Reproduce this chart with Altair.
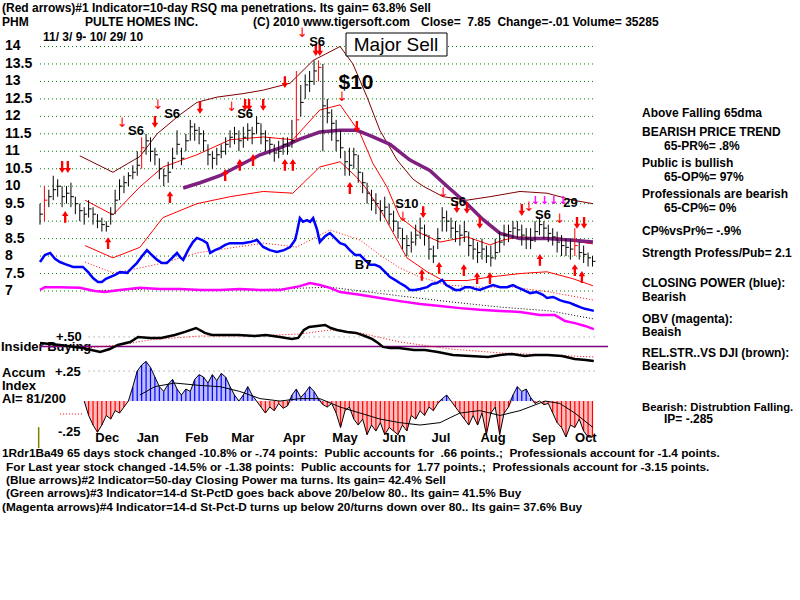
import altair as alt
import pandas as pd

FONT = "Liberation Sans"
NB = "\u00a0"

# ---------------- data (x unit: bar index, 0 = 11/3/09 ... 125 = 10/29/10) ----------------
close = [9.2, 9.6, 9.7, 9.9, 10.0, 9.7, 9.8, 9.7, 9.5, 9.3,
         9.2, 9.35, 9.2, 9.0, 8.9, 8.85, 9.2, 9.6, 10.0, 10.1,
         10.3, 10.4, 10.6, 11.1, 11.3, 11.0, 10.9, 10.5, 10.3, 10.4,
         10.8, 11.2, 10.8, 11.3, 11.7, 11.6, 11.5, 11.3, 10.9, 10.8,
         10.9, 11.0, 11.2, 11.4, 11.5, 11.3, 11.4, 11.6, 11.5, 11.8,
         11.5, 11.3, 11.2, 10.95, 11.0, 11.2, 11.15, 11.3, 11.9, 12.4,
         12.9, 13.0, 13.3, 13.4, 12.3, 12.1, 11.8, 11.3, 11.1, 10.7,
         10.6, 10.9, 10.4, 10.1, 9.8, 9.6, 9.5, 9.3, 9.4, 9.2,
         9.0, 8.8, 8.5, 8.3, 8.4, 8.6, 8.8, 8.6, 8.2, 8.0,
         8.5, 9.1, 9.0, 8.8, 8.7, 8.6, 8.7, 8.3, 8.2, 8.1,
         8.2, 8.0, 7.95, 8.1, 8.4, 8.6, 8.7, 8.8, 8.75, 8.6,
         8.5, 8.45, 8.7, 8.9, 8.8, 8.65, 8.55, 8.4, 8.3, 8.25,
         8.2, 8.3, 8.1, 8.05, 7.95, 7.85]
high = [9.5, 10.0, 9.9, 10.3, 10.2, 10.0, 10.0, 10.1, 9.7, 9.5,
        9.4, 9.6, 9.4, 9.2, 9.1, 9.0, 9.4, 9.9, 10.2, 10.3,
        10.4, 10.6, 11.0, 11.4, 11.5, 11.4, 11.1, 10.8, 10.5, 10.7,
        11.1, 11.6, 11.1, 11.5, 11.9, 11.8, 11.7, 11.6, 11.2, 11.0,
        11.1, 11.2, 11.4, 11.6, 11.7, 11.6, 11.7, 11.8, 11.7, 12.0,
        11.8, 11.6, 11.4, 11.2, 11.3, 11.4, 11.4, 11.9, 13.3, 12.9,
        13.2, 13.3, 13.6, 13.6, 13.5, 12.5, 12.2, 11.9, 11.6, 11.0,
        11.1, 11.1, 10.9, 10.4, 10.1, 9.9, 9.8, 9.6, 9.7, 9.5,
        9.3, 9.0, 8.8, 8.6, 8.7, 8.9, 9.1, 8.9, 8.6, 8.3,
        8.8, 9.4, 9.3, 9.1, 9.0, 8.9, 9.0, 8.7, 8.5, 8.4,
        8.5, 8.3, 8.3, 8.5, 8.7, 8.9, 8.9, 9.0, 9.0, 8.9,
        8.8, 8.8, 9.0, 9.1, 9.0, 8.9, 8.8, 8.7, 8.6, 8.5,
        8.5, 8.8, 8.4, 8.3, 8.1, 8.0]
low = [8.9, 9.0, 9.4, 9.6, 9.7, 9.4, 9.5, 9.4, 9.2, 9.0,
       8.9, 9.1, 8.9, 8.8, 8.7, 8.7, 8.9, 9.2, 9.6, 9.8,
       10.0, 10.2, 10.3, 10.5, 10.9, 10.7, 10.6, 10.2, 10.0, 10.1,
       10.5, 10.9, 10.6, 11.0, 11.3, 11.3, 11.2, 11.0, 10.6, 10.5,
       10.6, 10.8, 10.9, 11.1, 11.2, 11.0, 11.1, 11.3, 11.2, 11.5,
       11.2, 11.0, 10.9, 10.7, 10.8, 10.9, 10.9, 11.1, 11.3, 12.0,
       12.5, 12.7, 12.9, 13.0, 11.0, 11.8, 11.3, 11.0, 10.8, 10.3,
       10.3, 10.5, 10.1, 9.8, 9.5, 9.3, 9.2, 9.0, 9.1, 8.9,
       8.7, 8.5, 8.2, 8.0, 8.1, 8.3, 8.5, 8.3, 7.9, 7.8,
       8.2, 8.7, 8.7, 8.5, 8.4, 8.3, 8.4, 8.0, 7.9, 7.8,
       7.9, 7.8, 7.7, 7.9, 8.1, 8.3, 8.4, 8.5, 8.5, 8.3,
       8.2, 8.2, 8.4, 8.6, 8.5, 8.4, 8.3, 8.1, 8.0, 8.0,
       7.9, 8.0, 7.9, 7.8, 7.7, 7.7]
red_bar_idx = [1, 23, 58, 63, 121]

# Accumulation index, bars 10..125
acc_first = 10
accum = [0.0, -0.12, -0.2, -0.26, -0.2, -0.12, -0.15, -0.08, -0.1, -0.05,
         0.0, 0.12, 0.25, 0.3, 0.33, 0.28, 0.2, 0.12, 0.08, 0.14,
         0.18, 0.1, 0.05, 0.1, 0.08, 0.18, 0.22, 0.2, 0.15, 0.22,
         0.17, 0.23, 0.2, 0.12, 0.05, 0.0, 0.05, 0.12, 0.05, 0.0,
         -0.05, -0.1, -0.05, -0.08, -0.02, -0.06, -0.04, 0.05, 0.1, 0.03,
         0.07, 0.12, 0.08, 0.02, -0.03, -0.05, -0.02, -0.1, -0.22, -0.08,
         -0.05, -0.15, -0.2, -0.15, -0.28, -0.2, -0.25, -0.18, -0.28, -0.22,
         -0.25, -0.28, -0.2, -0.25, -0.12, -0.15, -0.08, -0.12, -0.05, -0.08,
         -0.02, 0.02, 0.05, 0.0, -0.05, -0.1, -0.15, -0.2, -0.12, -0.2,
         -0.1, -0.28, -0.1, -0.05, -0.28, -0.1, -0.05, 0.05, 0.12, 0.08,
         0.1, 0.03, -0.02, 0.0, -0.03, -0.02, -0.1, -0.18, -0.22, -0.3,
         -0.2, -0.22, -0.15, -0.25, -0.3, -0.3]
acc_ma_d = [22.6, 26.0, 30.5, 36.2, 40.7, 45.2, 49.8, 54.3, 58.8, 63.3, 67.9, 72.4,
            76.9, 81.4, 86.0, 90.5, 95.0, 99.5, 104.1, 108.6, 114.3, 117.6, 121.0, 125.1]
acc_ma_v = [0.05, 0.12, 0.15, 0.13, 0.12, 0.08, 0.02, 0.0, 0.02, 0.02, -0.05, -0.1,
            -0.15, -0.18, -0.2, -0.18, -0.1, -0.08, -0.12, -0.08, 0.0, -0.02, -0.1, -0.22]

# Insider buying line and its average
ins_d = [0.0, 4.5, 9.7, 13.6, 15.8, 17.6, 20.4, 22.2, 24.9, 27.4, 30.5, 32.8, 35.3, 37.3,
         38.9, 41.9, 45.0, 48.6, 51.1, 54.3, 57.0, 58.4, 59.7, 60.9, 62.7, 64.5, 65.8,
         67.2, 69.5, 71.5, 73.5, 75.1, 76.5, 77.6, 79.2, 81.2, 84.6, 87.1, 90.0, 93.4,
         97.3, 101.4, 104.1, 106.8, 109.7, 112.0, 114.9, 118.1, 121.0, 123.5, 125.3]
ins_v = [0.457, 0.443, 0.421, 0.393, 0.414, 0.443, 0.464, 0.5, 0.493, 0.493, 0.514, 0.536,
         0.564, 0.529, 0.514, 0.514, 0.514, 0.507, 0.514, 0.5, 0.486, 0.493, 0.55, 0.571,
         0.579, 0.586, 0.564, 0.55, 0.536, 0.529, 0.507, 0.486, 0.457, 0.429, 0.421, 0.421,
         0.407, 0.407, 0.393, 0.371, 0.364, 0.357, 0.371, 0.379, 0.364, 0.371, 0.371,
         0.364, 0.343, 0.336, 0.329]
ins_ma_d = [10.2, 18.1, 24.9, 36.2, 47.5, 58.8, 65.6, 72.4, 81.4, 92.8, 104.1, 115.4, 125.3]
ins_ma_v = [0.421, 0.443, 0.479, 0.507, 0.507, 0.521, 0.55, 0.529, 0.464, 0.414, 0.386, 0.371, 0.357]

# Price-panel moving average and bands
ma65_d = [32.4, 36.2, 40.7, 45.2, 49.8, 54.3, 58.8, 63.3, 67.9, 71.7, 74.7, 79.2, 83.7,
          88.2, 92.1, 96.6, 100.2, 104.1, 108.6, 114.7, 120.6, 125.1]
ma65_v = [9.95, 10.1, 10.3, 10.6, 10.9, 11.1, 11.35, 11.55, 11.6, 11.6, 11.45, 11.2, 10.75,
          10.45, 10.0, 9.5, 9.05, 8.65, 8.5, 8.5, 8.45, 8.4]
upper_d = [9.0, 16.5, 22.6, 26.5, 31.7, 35.5, 40.0, 45.9, 50.5, 56.6, 61.8, 67.9, 70.8,
           74.0, 76.9, 80.8, 84.4, 86.7, 91.2, 96.6, 101.8, 108.6, 114.7, 120.6, 125.1]
upper_v = [10.87, 10.4, 10.85, 11.5, 12.05, 12.4, 12.55, 12.65, 12.75, 12.95, 13.6, 14.0, 13.5,
           12.55, 11.6, 10.75, 10.2, 10.0, 9.7, 9.6, 9.7, 9.85, 9.8, 9.6, 9.5]
mid_d = [10.2, 16.5, 22.6, 27.8, 35.5, 43.0, 50.5, 57.2, 63.3, 67.9, 72.4, 75.3, 78.5,
         81.4, 86.0, 90.5, 96.6, 101.8, 104.8, 108.6, 113.1, 117.6, 122.2, 125.1]
mid_v = [9.6, 9.18, 9.98, 10.55, 10.9, 11.33, 11.41, 11.33, 12.18, 12.33, 11.52, 10.66, 9.98,
         9.12, 8.66, 8.4, 8.55, 8.32, 8.46, 8.55, 8.52, 8.52, 8.4, 8.35]
lower_d = [10.2, 16.5, 22.6, 27.8, 35.5, 43.0, 50.5, 57.2, 63.3, 67.9, 71.7, 74.0, 77.6,
           83.0, 87.6, 91.2, 96.6, 101.8, 108.6, 114.7, 120.6, 125.1]
lower_v = [8.3, 7.95, 8.25, 9.1, 9.5, 9.7, 9.85, 9.8, 10.55, 10.7, 10.25, 9.9, 9.2,
           7.95, 7.55, 7.3, 7.3, 7.4, 7.5, 7.55, 7.35, 7.15]

# Closing Power (blue) drawn in the price panel, plus its red dotted average
cp_d = [0.0, 1.1, 2.3, 3.4, 4.5, 5.7, 7.5, 9.7, 10.9, 12.0, 13.1, 14.0, 14.9, 15.8, 17.0,
        18.1, 19.7, 20.8, 21.9, 23.1, 24.2, 25.3, 26.5, 27.6, 28.7, 29.9, 31.0, 31.7, 32.4,
        33.5, 34.6, 35.5, 36.7, 37.8, 38.5, 39.6, 40.7, 41.9, 43.0, 44.6, 45.9, 47.5, 49.1,
        50.5, 52.0, 53.6, 55.2, 56.6, 57.7, 58.1, 58.8, 59.5, 60.4, 61.1, 61.8, 62.7, 63.3,
        64.5, 65.6, 66.7, 67.9, 69.0, 70.1, 71.3, 72.4, 73.5, 74.7, 75.8, 76.9, 78.1, 79.2,
        80.3, 81.4, 82.6, 83.7, 84.8, 86.0, 87.6, 88.7, 89.8, 91.0, 91.9, 92.8, 93.9, 95.0,
        96.2, 97.3, 98.4, 99.5, 100.7, 102.5, 104.1, 105.7, 107.0, 107.9, 109.3, 110.9,
        112.4, 113.8, 114.7, 116.1, 117.6, 118.8, 119.9, 121.0, 122.2, 123.3, 124.4, 125.3]
cp_v = [7.83, 8.03, 8.09, 7.92, 7.83, 7.77, 7.69, 7.69, 7.54, 7.37, 7.26, 7.26, 7.35, 7.40,
        7.46, 7.54, 7.52, 7.66, 7.80, 8.0, 8.17, 8.03, 7.89, 7.80, 7.80, 7.95, 8.09, 7.97,
        7.89, 8.17, 8.40, 8.52, 8.46, 8.37, 8.09, 8.17, 8.23, 8.32, 8.37, 8.37, 8.37, 8.40,
        8.46, 8.26, 8.17, 8.12, 8.17, 8.26, 8.46, 8.66, 9.09, 8.98, 9.03, 8.98, 9.09, 8.75,
        8.40, 8.57, 8.66, 8.52, 8.37, 8.32, 8.17, 8.03, 8.03, 7.89, 7.75, 7.75, 7.69, 7.54,
        7.40, 7.32, 7.23, 7.14, 7.03, 7.03, 7.06, 7.11, 7.2, 7.23, 7.32, 7.17, 7.11, 7.03,
        7.03, 7.11, 7.11, 7.06, 7.03, 7.09, 7.17, 7.11, 7.11, 7.17, 7.11, 7.03, 6.94, 6.97,
        6.89, 6.80, 6.83, 6.74, 6.69, 6.66, 6.60, 6.54, 6.49, 6.46, 6.43]
cpma_d = [10.2, 13.6, 16.5, 20.4, 27.8, 35.5, 43.0, 50.5, 58.1, 65.6, 72.4, 76.9, 81.4,
          86.0, 92.1, 99.5, 107.0, 115.4, 125.3]
cpma_v = [7.83, 7.66, 7.52, 7.60, 7.80, 8.09, 8.23, 8.37, 8.26, 8.75, 8.46, 8.03, 7.66,
          7.40, 7.17, 7.11, 7.11, 6.97, 6.74]

# OBV (magenta) and its black dotted average
obv_d = [0.0, 1.1, 4.5, 9.0, 12.4, 14.7, 18.1, 22.6, 27.1, 31.7, 36.2, 40.7, 45.2, 49.8,
         54.3, 58.8, 61.1, 63.3, 65.6, 67.9, 72.4, 76.9, 81.4, 86.0, 90.5, 95.0, 99.5,
         104.1, 108.6, 113.1, 116.5, 118.8, 121.0, 123.3, 125.3]
obv_v = [7.03, 7.11, 7.11, 7.09, 7.0, 6.97, 7.03, 7.09, 7.06, 7.06, 7.03, 7.03, 7.06, 7.03,
         7.03, 7.14, 7.23, 7.17, 7.09, 6.97, 6.89, 6.80, 6.71, 6.63, 6.57, 6.51, 6.46,
         6.43, 6.40, 6.31, 6.31, 6.14, 6.08, 6.0, 5.91]
obvma_d = [11.3, 24.9, 47.5, 65.6, 81.4, 92.8, 104.1, 115.4, 125.3]
obvma_v = [7.0, 7.06, 7.03, 7.11, 6.86, 6.69, 6.54, 6.43, 6.20]

price_ticks = [14, 13.5, 13, 12.5, 12, 11.5, 11, 10.5, 10, 9.5, 9, 8.5, 8, 7.5, 7]
tick_labels = ["14", "13.5", "13", "12.5", "12", "11.5", "11", "10.5", "10", "9.5", "9",
               "8.5", "8", "7.5", "7"]

months = ["Dec", "Jan", "Feb", "Mar", "Apr", "May", "Jun", "Jul", "Aug", "Sep", "Oct"]
month_d = [15.2, 24.4, 35.5, 45.9, 57.5, 69.0, 80.1, 90.7, 102.5, 114.0, 123.5]

# signal arrows
up_d = [5.7, 15.4, 29.4, 41.9, 45.2, 48.2, 55.4, 57.2, 70.1, 86.4, 90.3, 95.9, 98.9,
        101.8, 113.1, 121.0, 122.6]
up_p = [9.12, 8.37, 9.69, 10.32, 10.61, 10.75, 10.61, 10.61, 9.95, 7.46, 7.66, 7.60, 7.37,
        7.37, 7.89, 7.60, 7.40]
dn_d = [5.0, 6.3, 26.0, 36.2, 46.4, 47.3, 50.5, 55.4, 62.4, 63.3, 71.7, 86.7, 94.3, 96.6,
        99.5, 109.0, 121.5, 123.1]
dn_p = [10.55, 10.55, 11.84, 12.24, 12.33, 12.33, 12.33, 12.98, 13.9, 13.9, 11.70, 9.26,
        9.40, 9.38, 8.95, 9.32, 8.95, 8.95]
thin_d = [18.6, 26.7, 43.4, 59.3, 68.3, 82.1, 91.2, 110.6, 117.6]
thin_p = [11.81, 12.33, 12.27, 14.39, 12.55, 9.12, 9.81, 9.40, 9.05]

sig_text = ["S6", "S6", "S6", "S6", "S10", "S6", "S6", "29", "B7"]
sig_d = [21.7, 29.9, 46.4, 62.7, 83.0, 94.6, 113.8, 120.0, 73.1]
sig_p = [11.58, 12.07, 12.07, 14.13, 9.49, 9.55, 9.18, 9.52, 7.75]

# ---------------- scales ----------------
XS = alt.Scale(domain=[-9.05, 171.95], nice=False, zero=False)
PS = alt.Scale(domain=[-1.846, 15.331], nice=False, zero=False)
AS = alt.Scale(domain=[-1.658, 3.342], nice=False, zero=False)
IS = alt.Scale(domain=[-1.379, 2.907], nice=False, zero=False)


def X(f="d"):
    return alt.X(f"{f}:Q", scale=XS, axis=None)


def Y(f, sc):
    return alt.Y(f"{f}:Q", scale=sc, axis=None)


def line(d, v, color, width, sc=PS, dash=None):
    df = pd.DataFrame({"d": d, "v": v})
    kw = dict(color=color, strokeWidth=width, clip=False)
    if dash:
        kw["strokeDash"] = dash
    return alt.Chart(df).mark_line(**kw).encode(x=X(), y=Y("v", sc))


def txt(s, x, y, size=12, weight="bold", color="black", align="left", font=FONT):
    s = s.replace("  ", NB + NB)
    return alt.Chart(alt.Data(values=[{"t": s}])).mark_text(
        align=align, baseline="middle", fontSize=size, fontWeight=weight, color=color, font=font
    ).encode(x=alt.value(x), y=alt.value(y), text="t:N")


layers = []

# price gridlines
grid_df = pd.DataFrame({"v": price_ticks})
layers.append(alt.Chart(grid_df).mark_rule(color="#008000", strokeDash=[1, 3], strokeWidth=1).encode(
    y=Y("v", PS), x=alt.X(datum=0, type="quantitative", scale=XS, axis=None), x2=alt.X2(datum=125.5)))

# tick labels
layers.append(alt.Chart(pd.DataFrame({"v": price_ticks, "t": tick_labels})).mark_text(
    align="left", baseline="middle", fontSize=14, fontWeight="bold", font=FONT, color="black"
).encode(x=alt.value(5), y=Y("v", PS), text="t:N"))

# bands and averages
layers.append(line(upper_d, upper_v, "#800000", 1))
layers.append(line(mid_d, mid_v, "#FF0000", 1))
layers.append(line(lower_d, lower_v, "#FF0000", 1))
layers.append(line(cpma_d, cpma_v, "#FF0000", 1, dash=[1, 2]))
layers.append(line(obvma_d, obvma_v, "#000000", 1, dash=[1, 2]))
layers.append(line(obv_d, obv_v, "#FF00FF", 2.5))
layers.append(line(cp_d, cp_v, "#0000FF", 2.5))
layers.append(line(ma65_d, ma65_v, "#7F1F7F", 3.5))

# price bars
n = len(close)
bars = pd.DataFrame({
    "d": list(range(n)), "hi": high, "lo": low, "cl": close,
    "col": ["#FF0000" if i in red_bar_idx else "#000000" for i in range(n)],
})
layers.append(alt.Chart(bars).mark_rule(strokeWidth=1).encode(
    x=X(), y=Y("hi", PS), y2="lo:Q", color=alt.Color("col:N", scale=None)))
layers.append(alt.Chart(bars).mark_rule(strokeWidth=1, x2Offset=3).encode(
    x=X(), x2="d:Q", y=Y("cl", PS), color=alt.Color("col:N", scale=None)))

# arrows
UP = "M0,-1L0.55,-0.15L0.2,-0.15L0.2,1L-0.2,1L-0.2,-0.15L-0.55,-0.15Z"
DN = "M0,1L0.55,0.15L0.2,0.15L0.2,-1L-0.2,-1L-0.2,0.15L-0.55,0.15Z"
layers.append(alt.Chart(pd.DataFrame({"d": up_d, "v": up_p})).mark_point(
    shape=UP, filled=True, size=140, color="#FF0000", opacity=1, strokeWidth=0
).encode(x=X(), y=Y("v", PS)))
layers.append(alt.Chart(pd.DataFrame({"d": dn_d, "v": dn_p})).mark_point(
    shape=DN, filled=True, size=140, color="#FF0000", opacity=1, strokeWidth=0
).encode(x=X(), y=Y("v", PS)))
layers.append(alt.Chart(pd.DataFrame({"d": thin_d, "v": thin_p, "t": ["↓"] * len(thin_d)})).mark_text(
    fontSize=13, color="#FF0000", font="DejaVu Sans", baseline="middle"
).encode(x=X(), y=Y("v", PS), text="t:N"))
layers.append(alt.Chart(pd.DataFrame({"d": [115.2], "v": [9.58], "t": ["↓↓↓↓"]})).mark_text(
    fontSize=11, color="#FF00FF", font="DejaVu Sans", baseline="middle", fontWeight="bold"
).encode(x=X(), y=Y("v", PS), text="t:N"))

# signal labels
layers.append(alt.Chart(pd.DataFrame({"d": sig_d, "v": sig_p, "t": sig_text})).mark_text(
    fontSize=13, fontWeight="bold", font=FONT, color="black", baseline="middle"
).encode(x=X(), y=Y("v", PS), text="t:N"))
layers.append(alt.Chart(pd.DataFrame({"d": [71.5], "v": [12.95], "t": ["$10"]})).mark_text(
    fontSize=21, fontWeight="bold", font=FONT, color="black", baseline="middle"
).encode(x=X(), y=Y("v", PS), text="t:N"))

# Major Sell box
layers.append(alt.Chart(alt.Data(values=[{}])).mark_rect(fill="white", stroke="black", strokeWidth=1).encode(
    x=alt.value(346), x2=alt.value(447), y=alt.value(33), y2=alt.value(56)))
layers.append(txt("Major Sell", 396, 45, size=19, weight="normal", align="center"))

# --- insider / accumulation panel ---
layers.append(txt("Insider Buying", 1, 347, size=13))
layers.append(txt("+.50", 56, 337, size=13))
layers.append(txt("+.25", 55, 372, size=13))
layers.append(txt("Accum", 2, 373, size=13))
layers.append(txt("Index", 2, 386, size=13))
layers.append(txt("AI= 81/200", 2, 399, size=13))
layers.append(txt("-.25", 58, 432, size=13))

layers.append(alt.Chart(alt.Data(values=[{}])).mark_rule(color="#808080", strokeDash=[1, 4]).encode(
    y=alt.Y(datum=0.5, type="quantitative", scale=IS, axis=None),
    x=alt.X(datum=11, type="quantitative", scale=XS, axis=None), x2=alt.X2(datum=125.5)))
layers.append(alt.Chart(alt.Data(values=[{}])).mark_rule(color="#808080", strokeDash=[1, 4]).encode(
    y=alt.Y(datum=0.25, type="quantitative", scale=AS, axis=None),
    x=alt.X(datum=11, type="quantitative", scale=XS, axis=None), x2=alt.X2(datum=125.5)))
layers.append(alt.Chart(alt.Data(values=[{}])).mark_rule(color="#800080", strokeWidth=1.5).encode(
    y=alt.Y(datum=0.431, type="quantitative", scale=IS, axis=None),
    x=alt.X(datum=0, type="quantitative", scale=XS, axis=None), x2=alt.X2(datum=128.5)))
layers.append(alt.Chart(alt.Data(values=[{}])).mark_rule(color="#FF0000", strokeDash=[1, 2]).encode(
    y=alt.Y(datum=-0.108, type="quantitative", scale=AS, axis=None),
    x=alt.X(datum=4.5, type="quantitative", scale=XS, axis=None), x2=alt.X2(datum=9.5)))
layers.append(alt.Chart(alt.Data(values=[{}])).mark_rule(color="#808000", strokeWidth=1.5).encode(
    x=alt.X(datum=-0.3, type="quantitative", scale=XS, axis=None),
    y=alt.Y(datum=-0.217, type="quantitative", scale=AS, axis=None), y2=alt.Y2(datum=-0.392)))

layers.append(line(ins_ma_d, ins_ma_v, "#FF0000", 1, sc=IS, dash=[1, 2]))
layers.append(line(ins_d, ins_v, "#000000", 2.5, sc=IS))

acc_df = pd.DataFrame({"d": [acc_first + k for k in range(len(accum))], "a": accum})
acc_base = alt.Chart(acc_df).transform_calculate(
    pos="max(datum.a, 0)", neg="min(datum.a, 0)",
    col="datum.a >= 0 ? '#0000FF' : '#FF0000'")
layers.append(acc_base.mark_area(color="#6f6fff", opacity=0.45).encode(
    x=X(), y=Y("pos", AS), y2=alt.Y2(datum=0)))
layers.append(acc_base.mark_area(color="#ff6f6f", opacity=0.45).encode(
    x=X(), y=Y("neg", AS), y2=alt.Y2(datum=0)))
layers.append(acc_base.mark_rule(strokeWidth=1.2).encode(
    x=X(), y=Y("a", AS), y2=alt.Y2(datum=0), color=alt.Color("col:N", scale=None)))
layers.append(acc_base.mark_line(color="#000000", strokeWidth=1).encode(x=X(), y=Y("a", AS)))
layers.append(line(acc_ma_d, acc_ma_v, "#000000", 1, sc=AS))

# months
layers.append(alt.Chart(pd.DataFrame({"d": month_d, "t": months})).mark_text(
    fontSize=13, fontWeight="bold", font=FONT, color="black", baseline="middle"
).encode(x=X(), y=alt.value(438), text="t:N"))

# header
layers.append(txt("(Red arrows)#1 Indicator=10-day RSQ ma penetrations. Its gain= 63.8% Sell", 2, 8))
layers.append(txt("PHM", 2, 22))
layers.append(txt("PULTE HOMES INC.", 85, 22))
layers.append(txt("(C) 2010 www.tigersoft.com", 253, 22))
layers.append(txt("Close=  7.85  Change=-.01 Volume= 35285", 421, 22))
layers.append(txt("11/ 3/ 9- 10/ 29/ 10", 43, 37))

# right panel
R = 642
for s, x, y in [
    ("Above Falling 65dma", R, 113), ("BEARISH PRICE TREND", R, 132), ("65-PR%= .8%", 664, 146),
    ("Public is bullish", R, 163), ("65-OP%= 97%", 664, 177), ("Professionals are bearish", R, 194),
    ("65-CP%= 0%", 664, 208), ("CP%vsPr%= -.9%", R, 231), ("Strength Profess/Pub= 2.1", R, 253),
    ("CLOSING POWER (blue):", R, 283), ("Bearish", R, 297), ("OBV (magenta):", R, 319),
    ("Beaish", R, 332), ("REL.STR..VS DJI (brown):", R, 353), ("Bearish", R, 366),
    ("IP= -.285", 664, 419),
]:
    layers.append(txt(s, x, y))
layers.append(txt("Bearish: Distrubtion Falling.", R, 408, size=11.3))

# bottom lines
for s, x, y in [
    ("1Rdr1Ba49 65 days stock changed -10.8% or -.74 points:  Public accounts for  .66 points.;  Professionals account for -1.4 points.", 2, 453),
    ("For Last year stock changed -14.5% or -1.38 points:  Public accounts for  1.77 points.;  Professionals account for -3.15 points.", 6, 467),
    ("(Blue arrows)#2 Indicator=50-day Closing Power ma turns. Its gain= 42.4% Sell", 6, 480),
    ("(Green arrows)#3 Indicator=14-d St-PctD goes back above 20/below 80.. Its gain= 41.5% Buy", 6, 493),
    ("(Magenta arrows)#4 Indicator=14-d St-Pct-D turns up below 20/turns down over 80.. Its gain= 37.6% Buy", 2, 507),
]:
    layers.append(txt(s, x, y, size=11.8))

chart = alt.layer(*layers).resolve_scale(y="independent").properties(
    width=800, height=600, autosize=alt.AutoSizeParams(type="none"), padding=0,
    background="white"
).configure_view(stroke=None)

chart.save("out.html", embed_options={"renderer": "svg", "actions": False})
